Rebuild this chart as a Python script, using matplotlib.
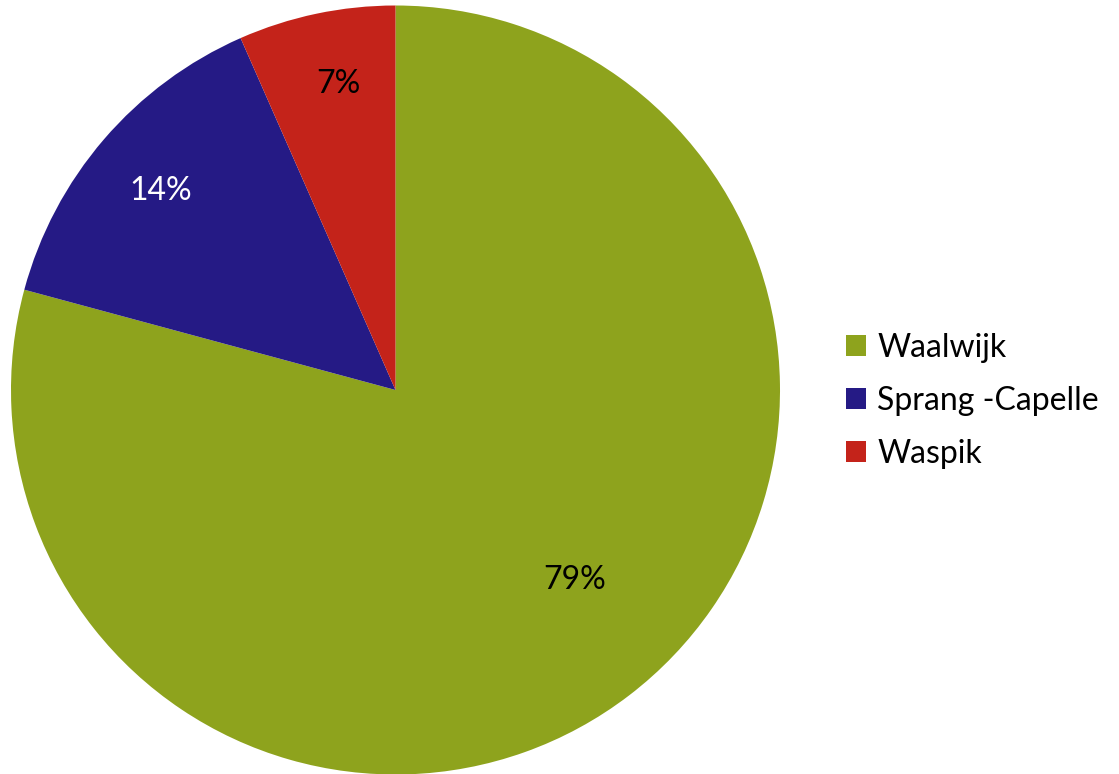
import matplotlib
matplotlib.use("Agg")
from matplotlib import pyplot as plt
from matplotlib.patches import Patch
import numpy as np

labels = ["Waalwijk", "Sprang -Capelle", "Waspik"]
values = [79.2, 14.2, 6.6]
colors = ["#8EA31D", "#251A85", "#C4231A"]
text_colors = ["black", "white", "black"]
label_dist = [0.68, 0.80, 0.81]
label_shift = [5.8, 0.4, -1.3]  # degrees, label offset from wedge middle

plt.rcParams['font.family'] = ['Lato', 'DejaVu Sans']

fig = plt.figure(figsize=(11.19, 7.74), dpi=100)
ax = fig.add_axes([11 / 1119, -0.5 / 774, 769 / 1119, 769 / 774])

wedges, texts, autotexts = ax.pie(values, colors=colors, startangle=90,
                                  counterclock=False, autopct='%.0f%%',
                                  radius=1.0, textprops={'fontsize': 23})

for w, t, c, d, s in zip(wedges, autotexts, text_colors, label_dist, label_shift):
    ang = np.deg2rad((w.theta1 + w.theta2) / 2 + s)
    t.set_position((d * np.cos(ang), d * np.sin(ang)))
    t.set_color(c)

ax.set_xlim(-1, 1)
ax.set_ylim(-1, 1)
ax.set_aspect('equal')

handles = [Patch(facecolor=c, edgecolor='none') for c in colors]
fig.legend(handles, labels, loc='center left', bbox_to_anchor=(846 / 1119, 1 - 401 / 774),
           frameon=False, fontsize=23, handlelength=0.63, handleheight=0.63,
           handletextpad=0.35, labelspacing=0.72, borderpad=0, borderaxespad=0)

fig.savefig("out.png", dpi=100)
